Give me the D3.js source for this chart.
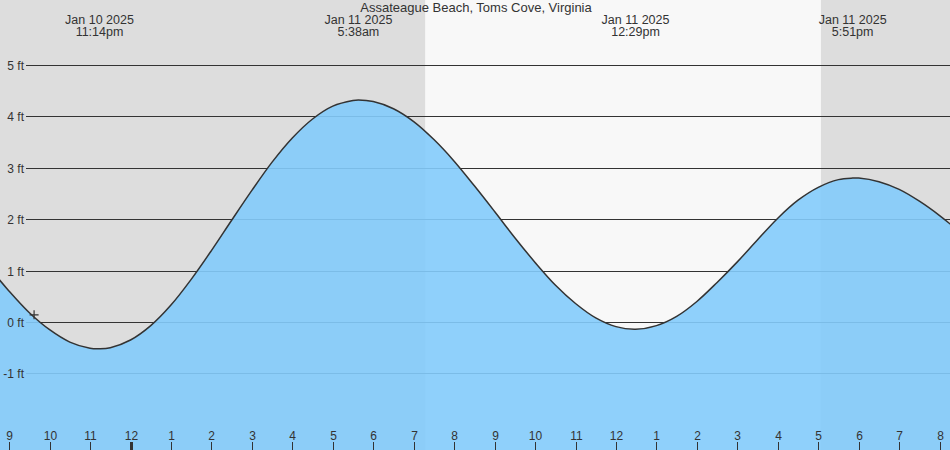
<!DOCTYPE html>
<html>
<head>
<meta charset="utf-8">
<script src="https://cdn.jsdelivr.net/npm/d3@7"></script>
<style>
    body { margin: 0; background: #fff; }
    svg { display: block; font-family: "Liberation Sans", Arial, sans-serif; }
</style>
</head>
<body>
<svg id="chart" width="950" height="450"></svg>
<script>
// tide heights (ft), every half hour plus the turning points
const tideTimes = [
    "2025-01-10 20:30", "2025-01-10 21:00", "2025-01-10 21:30", "2025-01-10 22:00", "2025-01-10 22:30",
    "2025-01-10 23:00", "2025-01-10 23:14", "2025-01-10 23:30", "2025-01-11 00:00", "2025-01-11 00:30",
    "2025-01-11 01:00", "2025-01-11 01:30", "2025-01-11 02:00", "2025-01-11 02:30", "2025-01-11 03:00",
    "2025-01-11 03:30", "2025-01-11 04:00", "2025-01-11 04:30", "2025-01-11 05:00", "2025-01-11 05:30",
    "2025-01-11 05:38", "2025-01-11 06:00", "2025-01-11 06:30", "2025-01-11 07:00", "2025-01-11 07:30",
    "2025-01-11 08:00", "2025-01-11 08:30", "2025-01-11 09:00", "2025-01-11 09:30", "2025-01-11 10:00",
    "2025-01-11 10:30", "2025-01-11 11:00", "2025-01-11 11:30", "2025-01-11 12:00", "2025-01-11 12:29",
    "2025-01-11 13:00", "2025-01-11 13:30", "2025-01-11 14:00", "2025-01-11 14:30", "2025-01-11 15:00",
    "2025-01-11 15:30", "2025-01-11 16:00", "2025-01-11 16:30", "2025-01-11 17:00", "2025-01-11 17:30",
    "2025-01-11 17:51", "2025-01-11 18:00", "2025-01-11 18:30", "2025-01-11 19:00", "2025-01-11 19:30",
    "2025-01-11 20:00", "2025-01-11 20:30"
];
const tideHeights = [
    1.07, 0.60, 0.18, -0.15, -0.39,
    -0.51, -0.52, -0.50, -0.35, -0.07,
    0.33, 0.83, 1.39, 1.98, 2.56,
    3.11, 3.58, 3.95, 4.20, 4.31,
    4.32, 4.29, 4.15, 3.90, 3.55,
    3.13, 2.65, 2.15, 1.64, 1.16,
    0.72, 0.36, 0.08, -0.09, -0.14,
    -0.07, 0.11, 0.40, 0.77, 1.17,
    1.60, 2.02, 2.37, 2.62, 2.77,
    2.80, 2.80, 2.73, 2.58, 2.35,
    2.07, 1.75
];

// high / low labels along the top
const eventTimes = ["2025-01-10 23:14", "2025-01-11 05:38", "2025-01-11 12:29", "2025-01-11 17:51"];
const eventDates = ["Jan 10 2025", "Jan 11 2025", "Jan 11 2025", "Jan 11 2025"];
const eventClock = ["11:14pm", "5:38am", "12:29pm", "5:51pm"];

// night shading (before sunrise / after sunset)
const nightStarts = ["2025-01-10 20:30", "2025-01-11 17:04"];
const nightEnds = ["2025-01-11 07:17", "2025-01-11 20:30"];

const yTicks = [-1, 0, 1, 2, 3, 4, 5];
const nowTime = "2025-01-10 21:37";
const nowHeight = 0.14;
const title = "Assateague Beach, Toms Cove, Virginia";

const parse = d3.utcParse("%Y-%m-%d %H:%M");
const width = 950, height = 450;
const svg = d3.select("#chart");

const x = d3.scaleUtc()
    .domain([parse("2025-01-10 20:46"), parse("2025-01-11 20:16")])
    .range([-0.3, 950.4]);
const y = d3.scaleLinear()
    .domain([-2.49, 6.265])
    .range([height, 0]);

const data = tideTimes.map(function (t, i) {
    return {date: parse(t), h: tideHeights[i]};
});

// backgrounds
svg.append("rect").attr("width", width).attr("height", height).attr("fill", "#f8f8f8");
svg.append("g").selectAll("rect")
    .data(nightStarts)
    .enter()
    .append("rect")
    .attr("x", function (d) { return Math.max(0, x(parse(d))); })
    .attr("width", function (d, i) { return x(parse(nightEnds[i])) - Math.max(0, x(parse(d))); })
    .attr("y", 0)
    .attr("height", height)
    .attr("fill", "#dddddd");

// grid lines (under the water)
svg.append("g").selectAll("line")
    .data(yTicks)
    .enter()
    .append("line")
    .attr("x1", 26).attr("x2", width)
    .attr("y1", function (d) { return Math.round(y(d)) + 0.5; })
    .attr("y2", function (d) { return Math.round(y(d)) + 0.5; })
    .attr("stroke", "#333")
    .attr("stroke-width", 1);

// water
const area = d3.area()
    .x(function (d) { return x(d.date); })
    .y0(height)
    .y1(function (d) { return y(d.h); })
    .curve(d3.curveCatmullRom);
const line = d3.line()
    .x(function (d) { return x(d.date); })
    .y(function (d) { return y(d.h); })
    .curve(d3.curveCatmullRom);

svg.append("path")
    .datum(data)
    .attr("d", area)
    .attr("fill", "rgb(131,203,251)")
    .attr("fill-opacity", 0.9);
svg.append("path")
    .datum(data)
    .attr("d", line)
    .attr("fill", "none")
    .attr("stroke", "#333")
    .attr("stroke-width", 1.5);

// y labels sit on top of the water
svg.append("g").selectAll("text")
    .data(yTicks)
    .enter()
    .append("text")
    .attr("x", 24)
    .attr("y", function (d) { return Math.round(y(d)) + 4.5; })
    .attr("text-anchor", "end")
    .attr("font-size", 12)
    .attr("fill", "#333")
    .text(function (d) { return d + " ft"; });

// current time marker
const nx = x(parse(nowTime)), ny = y(nowHeight);
svg.append("path")
    .attr("d", `M${nx - 4.5},${ny}H${nx + 4.5}M${nx},${ny - 4.5}V${ny + 4.5}`)
    .attr("stroke", "#333")
    .attr("stroke-width", 1.2);

// title and event labels
svg.append("text")
    .attr("x", width / 2 + 1)
    .attr("y", 12)
    .attr("text-anchor", "middle")
    .attr("font-size", 13)
    .attr("fill", "#333")
    .text(title);

const events = svg.append("g").selectAll("g")
    .data(eventTimes)
    .enter()
    .append("g")
    .attr("transform", function (d) { return `translate(${x(parse(d))},0)`; });
events.append("text")
    .attr("y", 23.5)
    .attr("text-anchor", "middle")
    .attr("font-size", 12.5)
    .attr("fill", "#333")
    .text(function (d, i) { return eventDates[i]; });
events.append("text")
    .attr("y", 36)
    .attr("text-anchor", "middle")
    .attr("font-size", 12.5)
    .attr("fill", "#333")
    .text(function (d, i) { return eventClock[i]; });

// hour axis along the bottom
const hours = x.ticks(d3.utcHour.every(1));
const axis = svg.append("g").selectAll("g")
    .data(hours)
    .enter()
    .append("g")
    .attr("transform", function (d) { return `translate(${Math.round(x(d)) + 0.5},0)`; });
axis.append("line")
    .attr("y1", 442).attr("y2", height)
    .attr("stroke", "#333")
    .attr("stroke-width", function (d) { return d.getUTCHours() === 0 ? 3 : 1; });
axis.append("text")
    .attr("y", 440)
    .attr("text-anchor", "middle")
    .attr("font-size", 12)
    .attr("fill", "#333")
    .text(d3.utcFormat("%-I"));
</script>
</body>
</html>
